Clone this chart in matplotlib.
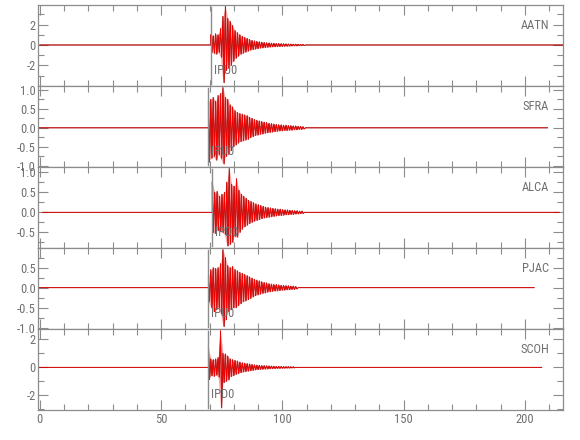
import numpy as np
import matplotlib
matplotlib.use("Agg")
import matplotlib.pyplot as plt
from matplotlib import font_manager
from matplotlib.ticker import MultipleLocator, FormatStrFormatter

# fuente estrecha si existe
installed = {f.name for f in font_manager.fontManager.ttflist}
narrow = [n for n in ['Liberation Sans Narrow', 'DejaVu Sans Condensed', 'Roboto Condensed']
          if n in installed]
plt.rcParams['font.family'] = narrow + ['DejaVu Sans']
plt.rcParams['font.stretch'] = 'condensed'

# estaciones, de arriba a abajo
stations = ['AATN', 'SFRA', 'ALCA', 'PJAC', 'SCOH']
pick_labels = ['IPU0', 'IPU0', 'IPD0', 'IPU0', 'IPD0']
pick_times = [70.5, 69.5, 71.1, 69.5, 69.5]   # s, lectura de la fase P
trace_start = [0.0, -0.6, 1.2, -0.6, -0.6]
trace_end = [216.0, 209.3, 214.1, 203.8, 206.9]
y_limits = [(-4.02, 3.92), (-1.03, 1.10), (-0.89, 1.13), (-1.03, 0.99), (-3.05, 2.74)]
y_major = [2, 0.5, 0.5, 0.5, 2]
y_minor = [1, 0.25, 0.25, 0.25, 1]

# envolvente (pico positivo / negativo) cada 1 s desde la lectura P
aatn_pos = [1.0, 0.9, 1.1, 1.0, 1.6, 2.8, 3.8, 2.6, 2.3, 1.9, 1.4, 1.2, 1.0, 0.85, 0.75,
            0.65, 0.55, 0.45, 0.4, 0.35, 0.32, 0.28, 0.25, 0.22, 0.2, 0.18, 0.17, 0.15,
            0.14, 0.13, 0.12, 0.11, 0.1, 0.09, 0.08, 0.08, 0.07, 0.06, 0.05]
aatn_neg = [-0.7, -0.8, -0.9, -0.7, -1.2, -3.7, -2.5, -2.3, -2.0, -1.6, -1.3, -1.1, -0.9,
            -0.8, -0.7, -0.6, -0.5, -0.45, -0.4, -0.35, -0.3, -0.28, -0.25, -0.22,
            -0.2, -0.18, -0.17, -0.15, -0.14, -0.13, -0.12, -0.11, -0.1, -0.09, -0.08,
            -0.08, -0.07, -0.06, -0.05]

sfra_pos = [0.7, 0.75, 0.8, 0.7, 0.85, 0.9, 1.06, 0.8, 0.75, 0.6, 0.55, 0.45, 0.4, 0.38,
            0.36, 0.34, 0.32, 0.28, 0.25, 0.22, 0.2, 0.18, 0.17, 0.15, 0.14, 0.12, 0.11,
            0.1, 0.09, 0.08, 0.08, 0.07, 0.07, 0.06, 0.06, 0.05, 0.05, 0.04, 0.04, 0.03]
sfra_neg = [-0.9, -0.8, -0.75, -0.85, -0.7, -0.8, -0.95, -0.75, -0.7, -0.6, -0.5, -0.45,
            -0.4, -0.36, -0.34, -0.32, -0.3, -0.26, -0.23, -0.2, -0.19, -0.17, -0.16,
            -0.14, -0.13, -0.12, -0.11, -0.1, -0.09, -0.08, -0.08, -0.07, -0.07, -0.06,
            -0.06, -0.05, -0.05, -0.04, -0.04, -0.03]

alca_pos = [0.76, 0.5, 0.52, 0.4, 0.45, 0.5, 0.75, 1.09, 0.7, 0.65, 0.84, 0.55, 0.45,
            0.4, 0.35, 0.3, 0.27, 0.24, 0.21, 0.19, 0.17, 0.15, 0.13, 0.12, 0.11, 0.1,
            0.09, 0.08, 0.08, 0.07, 0.06, 0.06, 0.05, 0.05, 0.04, 0.04, 0.03, 0.03]
alca_neg = [-0.5, -0.53, -0.45, -0.48, -0.5, -0.55, -0.84, -0.8, -0.75, -0.6, -0.62, -0.5,
            -0.42, -0.36, -0.32, -0.28, -0.25, -0.22, -0.2, -0.18, -0.16, -0.14, -0.13,
            -0.12, -0.11, -0.1, -0.09, -0.08, -0.08, -0.07, -0.06, -0.06, -0.05, -0.05,
            -0.04, -0.04, -0.03, -0.03]

pjac_pos = [0.28, 0.45, 0.5, 0.48, 0.5, 0.6, 0.95, 0.75, 0.55, 0.5, 0.53, 0.45, 0.42,
            0.38, 0.36, 0.33, 0.3, 0.27, 0.24, 0.21, 0.19, 0.17, 0.15, 0.13, 0.12, 0.1,
            0.09, 0.08, 0.08, 0.07, 0.06, 0.06, 0.05, 0.05, 0.04, 0.04, 0.03]
pjac_neg = [-0.34, -0.5, -0.6, -0.55, -0.5, -0.65, -0.97, -0.8, -0.6, -0.55, -0.5, -0.5,
            -0.45, -0.4, -0.35, -0.33, -0.3, -0.27, -0.23, -0.2, -0.18, -0.16, -0.14,
            -0.13, -0.11, -0.1, -0.09, -0.08, -0.08, -0.07, -0.06, -0.06, -0.05, -0.05,
            -0.04, -0.04, -0.03]

scoh_pos = [1.5, 0.6, 0.55, 0.6, 0.7, 2.62, 1.0, 0.95, 0.8, 0.6, 0.55, 0.5, 0.45, 0.38,
            0.33, 0.3, 0.27, 0.24, 0.21, 0.18, 0.16, 0.15, 0.13, 0.12, 0.11, 0.1, 0.09,
            0.08, 0.07, 0.07, 0.06, 0.06, 0.05, 0.05, 0.04, 0.04]
scoh_neg = [-0.88, -0.6, -0.64, -0.55, -0.7, -2.9, -1.1, -1.0, -0.9, -0.65, -0.6, -0.5,
            -0.45, -0.38, -0.33, -0.3, -0.27, -0.24, -0.21, -0.18, -0.16, -0.15, -0.13,
            -0.12, -0.11, -0.1, -0.09, -0.08, -0.07, -0.07, -0.06, -0.06, -0.05, -0.05,
            -0.04, -0.04]

envelopes = [(aatn_pos, aatn_neg), (sfra_pos, sfra_neg), (alca_pos, alca_neg),
             (pjac_pos, pjac_neg), (scoh_pos, scoh_neg)]

GRAY = '#8c8c8c'
TXT = '#707070'

fig = plt.figure(figsize=(5.8, 4.4), dpi=100)
left, right = 38.3 / 580, 563.3 / 580
top_px, bot_px = 5.0, 410.0
h_px = (bot_px - top_px) / 5

for k in range(5):
    y0 = 1 - (top_px + (k + 1) * h_px) / 440
    ax = fig.add_axes([left, y0, right - left, h_px / 440])

    # traza: linea de ruido + zigzag entre picos de la envolvente
    pos, neg = envelopes[k]
    tp = pick_times[k]
    tt = [trace_start[k], tp]
    yy = [0.0, 0.0]
    for i in range(len(pos)):
        tt += [tp + i, tp + i + 0.5]
        yy += [pos[i], neg[i]]
    tt += [tp + len(pos), trace_end[k]]
    yy += [0.0, 0.0]
    t_env = tp + np.arange(len(pos))
    ax.plot(tt, yy, color='black', lw=0.5)
    ax.fill_between(t_env, neg, pos, color='red', alpha=0.35, lw=0)
    ax.plot(tt, yy, color='red', lw=0.6)

    # lectura de la fase
    ax.axvline(tp, ymin=0.03, ymax=0.97, color=GRAY, lw=1.0)
    ax.text(tp + 1.2, 0.19, pick_labels[k], transform=ax.get_xaxis_transform(),
            color=TXT, fontsize=9, va='center', ha='left', zorder=5)
    ax.text(0.973, 0.753, stations[k], transform=ax.transAxes, color=TXT,
            fontsize=9, va='center', ha='right')

    ax.set_xlim(-0.6, 215.8)
    ax.set_ylim(*y_limits[k])
    ax.xaxis.set_major_locator(MultipleLocator(50))
    ax.xaxis.set_minor_locator(MultipleLocator(10))
    ax.yaxis.set_major_locator(MultipleLocator(y_major[k]))
    ax.yaxis.set_minor_locator(MultipleLocator(y_minor[k]))
    if y_major[k] == 2:
        ax.set_yticks([-2, 0, 2])
        ax.yaxis.set_major_formatter(FormatStrFormatter('%d'))
    else:
        ax.yaxis.set_major_formatter(FormatStrFormatter('%.1f'))
    ax.tick_params(which='both', direction='in', top=True, right=True,
                   color=GRAY, labelcolor=TXT, labelsize=9, width=0.8, pad=2)
    ax.tick_params(which='major', length=7)
    ax.tick_params(which='minor', length=4)
    if k < 4:
        ax.tick_params(labelbottom=False)
    for s in ax.spines.values():
        s.set_color(GRAY)
        s.set_linewidth(0.9)

fig.savefig('out.png', dpi=100)
